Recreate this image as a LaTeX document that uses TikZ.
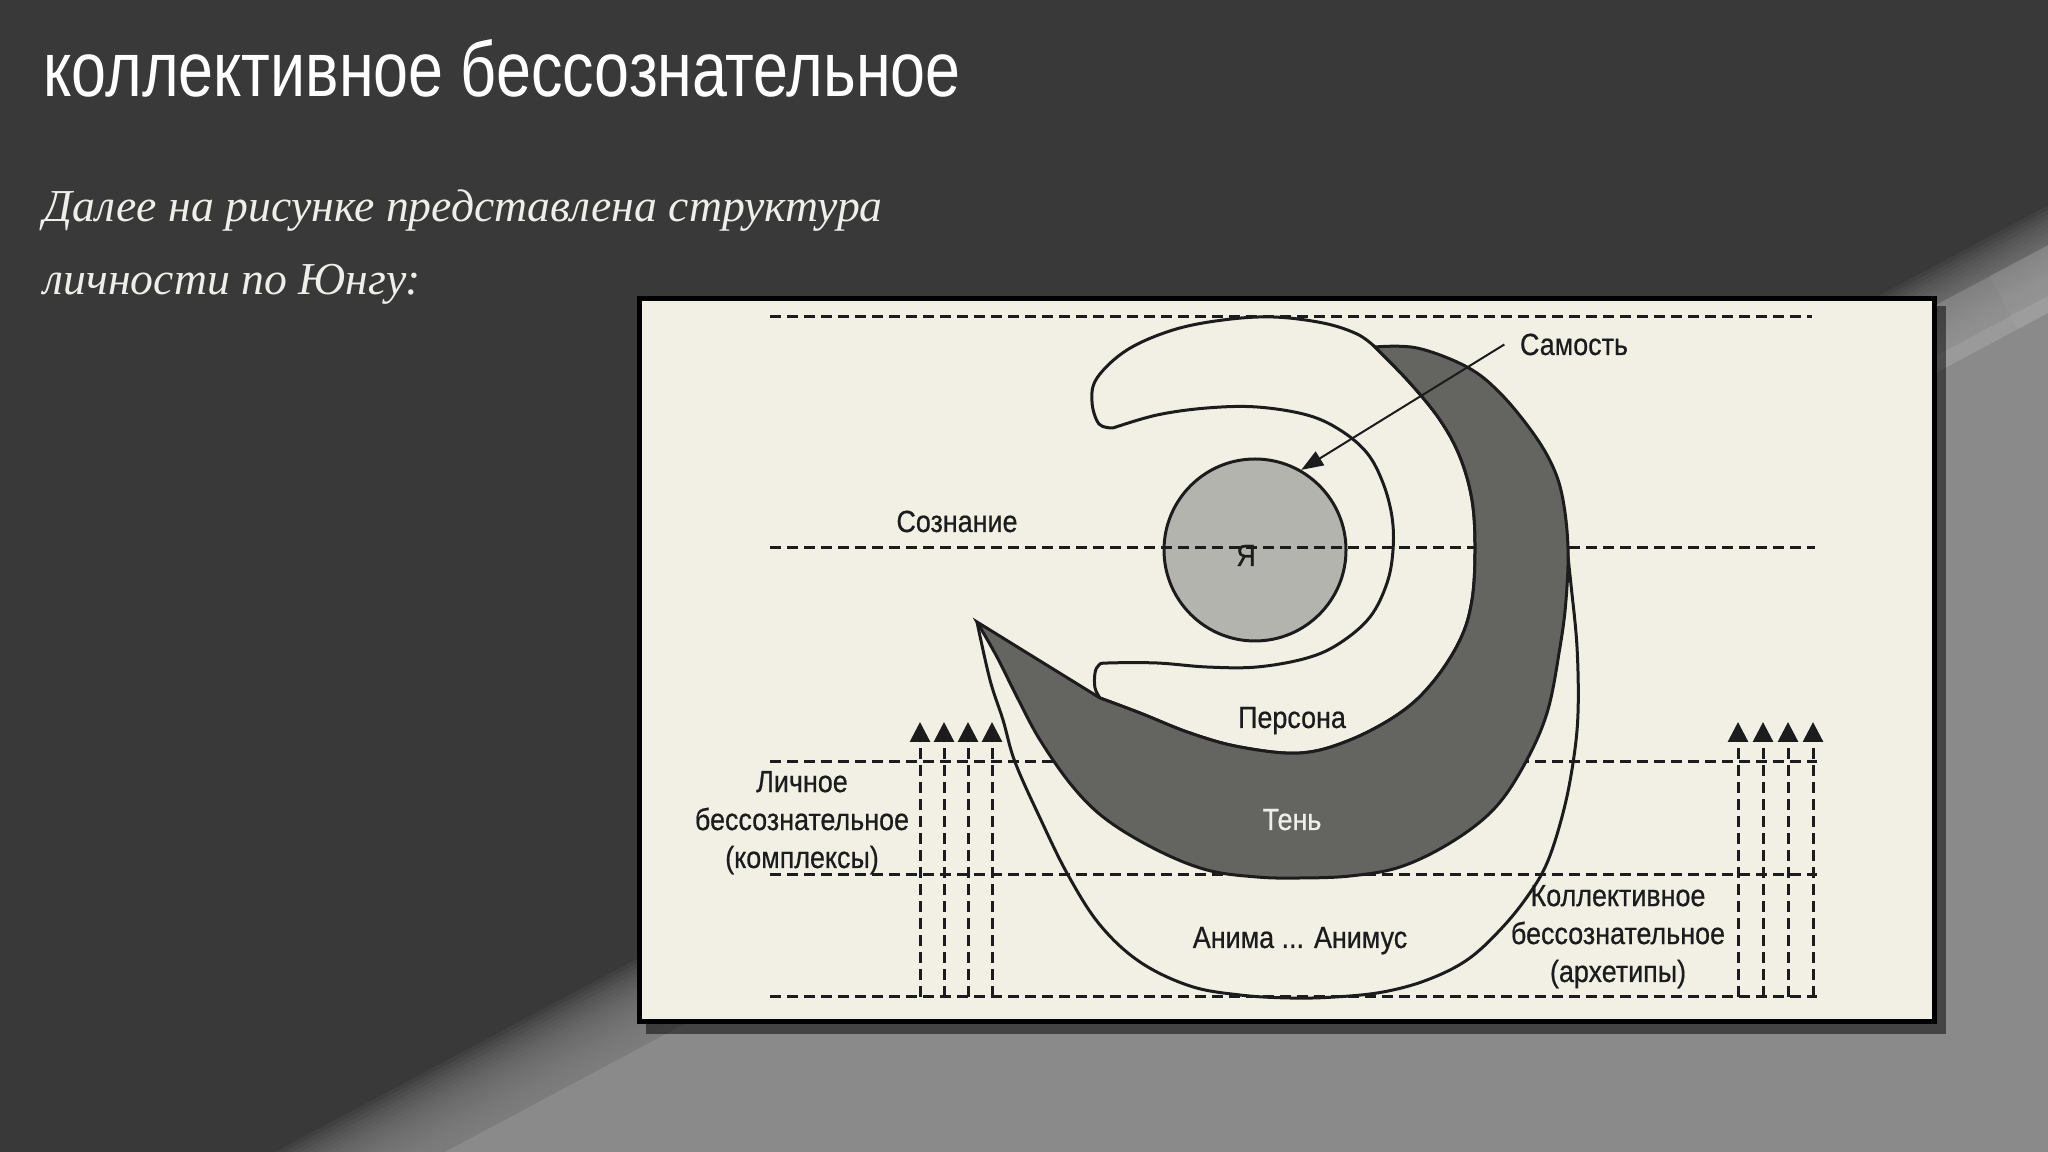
\documentclass[tikz,border=0pt]{standalone}
\usepackage{fontspec}
\usepackage{graphicx}
\setmainfont{Liberation Serif}
\newfontfamily\titrefont{Liberation Sans}
\newfontfamily\soustitrefont{Liberation Serif}
\newfontfamily\etiquettefont[FakeStretch=0.88, FakeBold=0.6]{Liberation Sans}
\usetikzlibrary{arrows.meta}
\definecolor{fond}{RGB}{57,57,57}
\definecolor{fondclair}{RGB}{138,138,138}
\definecolor{papier}{RGB}{242,240,229}
\definecolor{encre}{RGB}{28,28,28}
\definecolor{gris}{RGB}{180,180,174}
\definecolor{ombre}{RGB}{100,100,97}
\definecolor{clair}{RGB}{238,238,234}

\begin{document}
\begin{tikzpicture}[x=0.1mm, y=-0.1mm]
	\tikzset{contour/.style={draw=encre, line width=0.3mm},
		pointille/.style={draw=encre, line width=0.3mm, dash pattern=on 1.1mm off 0.6mm},
		fleche/.style={pointille, -{Triangle[length=2mm, width=2mm]}},
		etiquette/.style={font=\etiquettefont\fontsize{8.7}{10.8}\selectfont, text=encre, inner sep=0pt, anchor=base, align=center},
		noeud/.style={circle, contour, fill=gris, minimum size=18.2mm, inner sep=0pt}};

	\useasboundingbox (0,0) rectangle (2048,1152);
	\fill[fond] (0,0) rectangle (2048,1152);
	\begin{scope}[shift={(360,1152)}, rotate=28.1]
		\foreach \d in {-40,-36,...,36}
			\fill[fondclair, opacity=0.1] (-600,\d) rectangle (2600,2000);
		\fill[fondclair] (-600,40) rectangle (2600,2000);
		\foreach \s in {1350,1450,...,1850}
			\fill[white, opacity=0.035] (\s,-5) rectangle (2600,55);
	\end{scope}

	\node[anchor=base west, inner sep=0pt, text=white] (titre) at (43,97) {\resizebox{91.7mm}{5.7mm}{\titrefont коллективное бессознательное}};
	\node[anchor=base west, inner sep=0pt, text=clair, font=\soustitrefont\itshape\fontsize{13}{15}\selectfont] (soustitre) at (43,222) {Далее на рисунке представлена структура};
	\node[anchor=base west, inner sep=0pt, text=clair, font=\soustitrefont\itshape\fontsize{13}{15}\selectfont] (soustitreb) at (43,295) {личности по Юнгу:};

	\fill[black, opacity=0.5] (646,306) rectangle (1946,1034);
	\draw[fill=papier, draw=black, line width=0.5mm] (639,299) rectangle (1934,1022);

	\draw[contour] plot[smooth, tension=0.6] coordinates {(977,622) (990,680) (1003,720) (1015,762) (1040,818) (1068,875) (1100,925) (1140,962) (1190,986) (1240,995) (1290,998) (1335,997) (1383,992) (1427,980) (1467,960) (1500,930) (1527,897) (1547,863) (1563,813) (1573,763) (1578,713) (1577,647) (1571,585) (1567,548)};

	\filldraw[contour, fill=papier] plot[smooth, tension=0.6] coordinates {(1113,428) (1099,424) (1092,402) (1097,378) (1127,350) (1173,330) (1223,320) (1273,317) (1323,323) (1357,334) (1375,347)}
		-- plot[smooth, tension=0.6] coordinates {(1375,347) (1410,383) (1440,420) (1460,457) (1472,500) (1475,548) (1472,600) (1460,640) (1433,682) (1400,713) (1350,740) (1300,753) (1240,747) (1190,733) (1140,713) (1100,698)}
		-- plot[smooth, tension=0.6] coordinates {(1100,698) (1095,688) (1095,673) (1099,665) (1108,663) (1157,663) (1207,667) (1257,667) (1307,658) (1340,643) (1370,617) (1387,583) (1393,550) (1392,517) (1383,483) (1367,453) (1340,430) (1307,415) (1257,407) (1207,408) (1157,415) (1113,428)} -- cycle;

	\node[noeud] (moi) at (1255,550) {};

	\draw[pointille] (770,317) -- (1812,317);
	\draw[pointille] (770,548) -- (1815,548);
	\draw[pointille] (770,762) -- (1817,762);
	\draw[pointille] (770,875) -- (1817,875);
	\draw[pointille] (770,997) -- (1817,997);

	\filldraw[contour, fill=ombre] plot[smooth, tension=0.6] coordinates {(1375,347) (1417,348) (1467,367) (1500,393) (1533,433) (1553,467) (1563,500) (1568,548) (1566,600) (1560,647) (1547,713) (1523,767) (1493,810) (1450,843) (1400,867) (1350,876) (1300,878) (1257,877) (1207,870) (1157,850) (1107,820) (1073,787) (1040,740) (1017,697) (997,657) (977,622)}
		-- plot[smooth, tension=0.6] coordinates {(1100,698) (1140,713) (1190,733) (1240,747) (1300,753) (1350,740) (1400,713) (1433,682) (1460,640) (1472,600) (1475,548) (1472,500) (1460,457) (1440,420) (1410,383) (1375,347)} -- cycle;

	\draw[fleche] ( 920,997) -- ( 920,722);
	\draw[fleche] ( 944,997) -- ( 944,722);
	\draw[fleche] ( 968,997) -- ( 968,722);
	\draw[fleche] ( 992,997) -- ( 992,722);
	\draw[fleche] (1738,997) -- (1738,722);
	\draw[fleche] (1763,997) -- (1763,722);
	\draw[fleche] (1788,997) -- (1788,722);
	\draw[fleche] (1813,997) -- (1813,722);

	\node[etiquette, inner xsep=1.5mm] (samost) at (1574,355) {Самость};
	\node[etiquette] (soznanie)     at ( 957,532) {Сознание};
	\node[etiquette] (ya)           at (1246,566) {Я};
	\node[etiquette] (persona)      at (1292,728) {Персона};
	\node[etiquette, text=clair] (ten) at (1292,830) {Тень};
	\node[etiquette] (anima)        at (1300,948) {Анима ... Анимус};
	\node[etiquette] (lichnoe)      at ( 802,868) {Личное\\бессознательное\\(комплексы)};
	\node[etiquette] (kollektivnoe) at (1618,982) {Коллективное\\бессознательное\\(архетипы)};

	\draw[encre, line width=0.2mm, -{Triangle[length=2.2mm, width=1.6mm]}] (samost.west) -- (moi.60);
\end{tikzpicture}
\end{document}
